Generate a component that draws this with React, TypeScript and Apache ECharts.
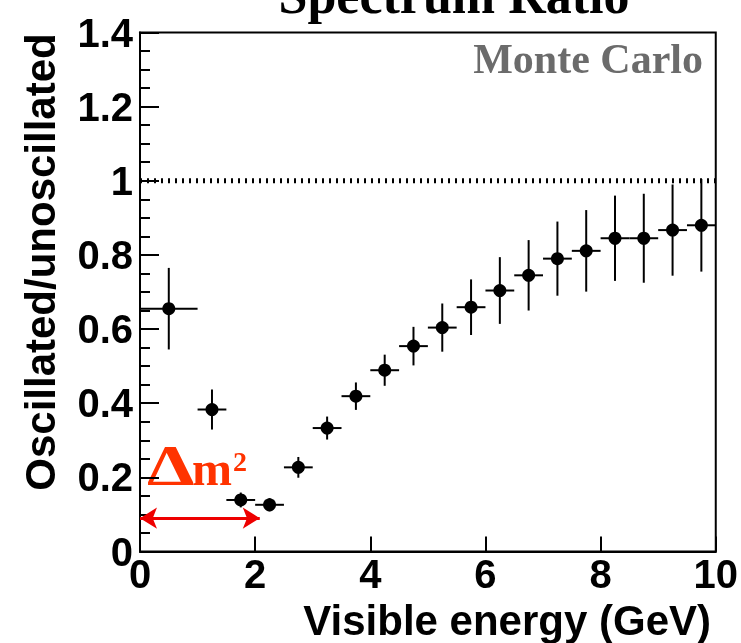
import React, { useEffect, useRef } from "react";
import * as echarts from "echarts";

// Bin centres, edges (GeV), ratio values and their errors
const binCenter = [0.5, 1.25, 1.75, 2.25, 2.75, 3.25, 3.75, 4.25, 4.75, 5.25, 5.75, 6.25, 6.75, 7.25, 7.75, 8.25, 8.75, 9.25, 9.75];
const binLow = [0, 1.0, 1.5, 2.0, 2.5, 3.0, 3.5, 4.0, 4.5, 5.0, 5.5, 6.0, 6.5, 7.0, 7.5, 8.0, 8.5, 9.0, 9.5];
const binHigh = [1.0, 1.5, 2.0, 2.5, 3.0, 3.5, 4.0, 4.5, 5.0, 5.5, 6.0, 6.5, 7.0, 7.5, 8.0, 8.5, 9.0, 9.5, 10.0];
const ratio = [0.655, 0.383, 0.139, 0.126, 0.227, 0.333, 0.419, 0.489, 0.554, 0.604, 0.659, 0.704, 0.745, 0.79, 0.811, 0.845, 0.845, 0.867, 0.88];
const ratioErr = [0.11, 0.054, 0.02, 0.018, 0.028, 0.031, 0.037, 0.042, 0.052, 0.065, 0.075, 0.09, 0.095, 0.1, 0.11, 0.115, 0.12, 0.123, 0.125];

const xRange = [0, 10];
const yRange = [0, 1.4];
const unity = 1;
const arrowY = 0.09;
const arrowX = [0, 2.08];

const titleText = "Spectrum Ratio";
const xTitle = "Visible energy (GeV)";
const yTitle = "Oscillated/unoscillated";
const mcText = "Monte Carlo";

export default function App() {
  const ref = useRef<HTMLDivElement>(null);
  useEffect(() => {
    if (!ref.current) return;
    const chart = echarts.init(ref.current, null, { renderer: "svg" });
    const pts = binCenter.map((x, i) => [x, ratio[i], binLow[i], binHigh[i], ratioErr[i]]);
    const sans = '"Liberation Sans", Arial, Helvetica, sans-serif';
    const serif = '"Liberation Serif", "Times New Roman", serif';
    chart.setOption({
      animation: false,
      grid: {
        left: 140,
        right: 24,
        top: 32.5,
        bottom: 91.5,
        show: true,
        borderColor: "#000",
        borderWidth: 2,
        backgroundColor: "transparent",
      },
      xAxis: {
        type: "value",
        min: xRange[0],
        max: xRange[1],
        interval: 2,
        axisLine: { show: true, onZero: false, lineStyle: { color: "#000", width: 2 } },
        axisTick: { show: true, inside: true, length: 15, lineStyle: { color: "#000", width: 2 } },
        splitLine: { show: false },
        axisLabel: {
          color: "#000",
          fontFamily: sans,
          fontWeight: "bold",
          fontSize: 40,
          margin: 2,
        },
      },
      yAxis: {
        type: "value",
        min: yRange[0],
        max: yRange[1],
        interval: 0.2,
        axisLine: { show: true, onZero: false, lineStyle: { color: "#000", width: 2 } },
        axisTick: { show: true, inside: true, length: 19, lineStyle: { color: "#000", width: 2 } },
        minorTick: { show: true, splitNumber: 4, length: 10, lineStyle: { color: "#000", width: 2 } },
        splitLine: { show: false },
        axisLabel: {
          color: "#000",
          fontFamily: sans,
          fontWeight: "bold",
          fontSize: 40,
          margin: 7,
          padding: [0, 0, 8, 0],
        },
      },
      series: [
        {
          type: "line",
          data: [[xRange[0], unity], [xRange[1], unity]],
          symbol: "none",
          silent: true,
          lineStyle: { color: "#000", width: 5, type: [2, 5] },
          markLine: {
            silent: true,
            symbol: ["arrow", "arrow"],
            symbolSize: [16, 17],
            label: { show: false },
            lineStyle: { color: "#ee0000", width: 3, type: "solid" },
            data: [[{ coord: [arrowX[0], arrowY] }, { coord: [arrowX[1], arrowY] }]],
          },
        },
        {
          type: "custom",
          data: pts,
          encode: { x: 0, y: 1 },
          renderItem: (params: any, api: any) => {
            const x = api.value(0);
            const y = api.value(1);
            const lo = api.value(2);
            const hi = api.value(3);
            const e = api.value(4);
            const c = api.coord([x, y]);
            const pl = api.coord([lo, y]);
            const ph = api.coord([hi, y]);
            const pt = api.coord([x, y + e]);
            const pb = api.coord([x, y - e]);
            const st = { stroke: "#000", lineWidth: 2 };
            return {
              type: "group",
              children: [
                { type: "line", shape: { x1: pl[0], y1: pl[1], x2: ph[0], y2: ph[1] }, style: st },
                { type: "line", shape: { x1: pt[0], y1: pt[1], x2: pb[0], y2: pb[1] }, style: st },
                { type: "circle", shape: { cx: c[0], cy: c[1], r: 6.5 }, style: { fill: "#000" } },
              ],
            };
          },
        },
      ],
      graphic: [
        {
          type: "text",
          x: 454,
          y: -4.5,
          style: { text: titleText, font: `bold 52px ${serif}`, fill: "#000", align: "center", verticalAlign: "middle" },
        },
        {
          type: "text",
          x: 703,
          y: 58.5,
          style: { text: mcText, font: `bold 42px ${serif}`, fill: "#6b6b6b", align: "right", verticalAlign: "middle" },
        },
        {
          type: "text",
          x: 711,
          y: 620,
          style: { text: xTitle, font: `bold 42px ${sans}`, fill: "#000", align: "right", verticalAlign: "middle" },
        },
        {
          type: "text",
          x: 40.5,
          y: 262,
          rotation: Math.PI / 2,
          style: { text: yTitle, font: `bold 42px ${sans}`, fill: "#000", align: "center", verticalAlign: "middle" },
        },
        {
          type: "text",
          x: 147,
          y: 466,
          scaleX: 1.35,
          style: { text: "Δ", font: `bold 56px ${serif}`, fill: "#ff3300", align: "left", verticalAlign: "middle" },
        },
        {
          type: "text",
          x: 192,
          y: 468,
          style: { text: "m", font: `bold 48px ${serif}`, fill: "#ff3300", align: "left", verticalAlign: "middle" },
        },
        {
          type: "text",
          x: 233,
          y: 461,
          style: { text: "2", font: `bold 28px ${serif}`, fill: "#ff3300", align: "left", verticalAlign: "middle" },
        },
      ],
    });
    return () => chart.dispose();
  }, []);
  return <div ref={ref} style={{ position: "fixed", left: 0, top: 0, width: 741, height: 643 }} />;
}
